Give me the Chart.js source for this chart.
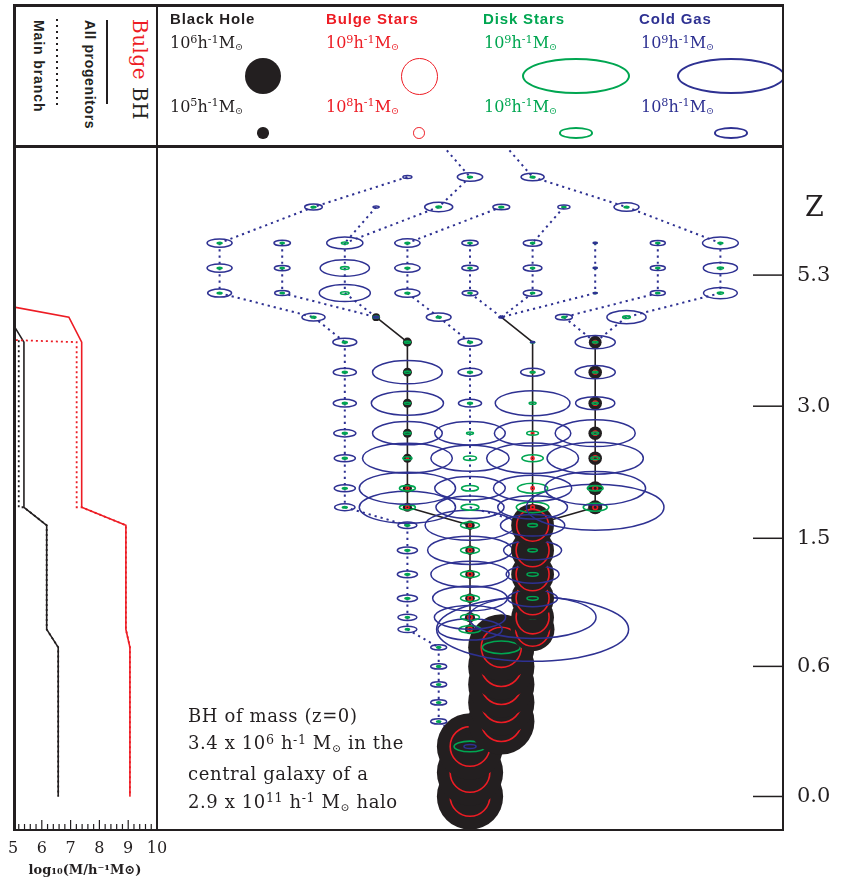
<!DOCTYPE html>
<html lang="en">
<head>
<meta charset="utf-8">
<title>BH merger tree</title>
<script src="https://cdn.jsdelivr.net/npm/chart.js@4.4.1/dist/chart.umd.min.js"></script>
<style>
  html, body { margin: 0; padding: 0; background: #fff; }
  #page { position: relative; width: 846px; height: 881px; overflow: hidden; background: #fff; }
  #page canvas { position: absolute; }
  .txt { position: absolute; white-space: nowrap; color: #231f20; }
  .vtext { position: absolute; writing-mode: vertical-rl; white-space: nowrap; color: #231f20; }
  .key { font: bold 14px 'Liberation Sans', sans-serif; line-height: 14px; }
  .title { font: bold 15px 'Liberation Sans', sans-serif; line-height: 15px; letter-spacing: 0.85px; top: 11px; }
  .mass { font: 16px 'DejaVu Serif', serif; line-height: 16px; }
  .sup { font-size: 0.7em; position: relative; top: -0.45em; }
  .sub { font-size: 0.6em; position: relative; top: 0.25em; }
  .frame { position: absolute; background: #231f20; }
  #legendShapes { position: absolute; left: 0; top: 0; width: 782px; height: 146px; overflow: hidden; }
  .shape { position: absolute; box-sizing: border-box; border-radius: 50%; }
</style>
</head>
<body>
<div id="page">
  <canvas id="massChart" width="170" height="743" style="left:0;top:138px;"></canvas>
  <canvas id="treeChart" width="701" height="743" style="left:145px;top:138px;"></canvas>

  <!-- legend: left panel keys -->
  <div class="vtext" style="left:130px;top:19px;font:20px 'DejaVu Serif',serif;line-height:20px;letter-spacing:0.5px"><span style="color:#ed1c24">Bulge</span> BH</div>
  <div class="vtext key" style="left:83px;top:20px;letter-spacing:0.65px">All progenitors</div>
  <div class="vtext key" style="left:32px;top:20px;letter-spacing:0.9px">Main branch</div>
  <div style="position:absolute;left:106px;top:20px;width:2px;height:84px;background:#231f20"></div>
  <div style="position:absolute;left:56px;top:19px;width:2px;height:87px;background:repeating-linear-gradient(to bottom,#231f20 0 2px,transparent 2px 6px)"></div>

  <!-- legend: symbol sizes -->
  <div id="legendShapes"></div>
  <div class="txt title" style="left:170px">Black Hole</div>
  <div class="txt title" style="left:326px;color:#ed1c24">Bulge Stars</div>
  <div class="txt title" style="left:483px;color:#00a651">Disk Stars</div>
  <div class="txt title" style="left:639px;color:#2e3192">Cold Gas</div>

  <div class="txt mass" style="left:170px;top:35px">10<span class="sup">6</span>h<span class="sup">-1</span>M<span class="sub">⊙</span></div>
  <div class="txt mass" style="left:170px;top:98.5px">10<span class="sup">5</span>h<span class="sup">-1</span>M<span class="sub">⊙</span></div>
  <div class="txt mass" style="left:326px;top:35px;color:#ed1c24">10<span class="sup">9</span>h<span class="sup">-1</span>M<span class="sub">⊙</span></div>
  <div class="txt mass" style="left:326px;top:98.5px;color:#ed1c24">10<span class="sup">8</span>h<span class="sup">-1</span>M<span class="sub">⊙</span></div>
  <div class="txt mass" style="left:484px;top:35px;color:#00a651">10<span class="sup">9</span>h<span class="sup">-1</span>M<span class="sub">⊙</span></div>
  <div class="txt mass" style="left:484px;top:98.5px;color:#00a651">10<span class="sup">8</span>h<span class="sup">-1</span>M<span class="sub">⊙</span></div>
  <div class="txt mass" style="left:641px;top:35px;color:#2e3192">10<span class="sup">9</span>h<span class="sup">-1</span>M<span class="sub">⊙</span></div>
  <div class="txt mass" style="left:641px;top:98.5px;color:#2e3192">10<span class="sup">8</span>h<span class="sup">-1</span>M<span class="sub">⊙</span></div>

  <!-- redshift axis name and note -->
  <div class="txt" style="left:805px;top:193px;font:27px 'DejaVu Serif',serif;line-height:27px">Z</div>
  <div class="txt" style="left:188px;top:701.6px;font:18px 'DejaVu Serif',serif;line-height:27.8px;letter-spacing:0.6px">
    BH of mass (z=0)<br>
    3.4 x 10<span class="sup">6</span> h<span class="sup">-1</span> M<span class="sub">⊙</span> in the<br>
    central galaxy of a<br>
    2.9 x 10<span class="sup">11</span> h<span class="sup">-1</span> M<span class="sub">⊙</span> halo
  </div>

  <!-- frames -->
  <div class="frame" style="left:13px;top:4px;width:771px;height:2.5px"></div>
  <div class="frame" style="left:13px;top:145px;width:771px;height:2.5px"></div>
  <div class="frame" style="left:13px;top:828.5px;width:771px;height:2.5px"></div>
  <div class="frame" style="left:13px;top:4px;width:2.5px;height:827px"></div>
  <div class="frame" style="left:155.5px;top:4px;width:2.5px;height:827px"></div>
  <div class="frame" style="left:781.5px;top:4px;width:2.5px;height:827px"></div>
</div>

<script>
// ---- shared time axis (snapshot time, arbitrary units, 0 = today) ----
// one entry per tree row, row 0 sits just above the frame
const rowTime = [26.2, 24.76, 23.56, 22.12, 21.12, 20.12, 19.16, 18.16, 16.96, 15.72,
                 14.52, 13.52, 12.32, 11.56, 10.84, 9.84, 8.88, 7.92, 7.16, 6.68,
                 5.96, 5.2, 4.48, 3.76, 3.0, 2.0, 0.96, 0];
const zTickTime = [20.84, 15.6, 10.32, 5.2, 0];
const zTickLabels = ['5.3', '3.0', '1.5', '0.6', '0.0'];

// ---- merger tree nodes (one line per row) ----
const nodeCol = [
  7, 9,
  6, 8, 10,
  3, 5, 7, 9, 11, 13,
  0, 2, 4, 6, 8, 10, 12, 14, 16,
  0, 2, 4, 6, 8, 10, 12, 14, 16,
  0, 2, 4, 6, 8, 10, 12, 14, 16,
  3, 5, 7, 9, 11, 13,
  4, 6, 8, 10, 12,
  4, 6, 8, 10, 12,
  4, 6, 8, 10, 12,
  4, 6, 8, 10, 12,
  4, 6, 8, 10, 12,
  4, 6, 8, 10, 12,
  4, 6, 8, 10, 12,
  6, 8, 10,
  6, 8, 10,
  6, 8, 10,
  6, 8, 10,
  6, 8, 10,
  6, 8, 10,
  7, 9,
  7, 9,
  7, 9,
  7, 9,
  7, 9,
  8, 8, 8
];
const nodeRow = [
  0, 0,
  1, 1, 1,
  2, 2, 2, 2, 2, 2,
  3, 3, 3, 3, 3, 3, 3, 3, 3,
  4, 4, 4, 4, 4, 4, 4, 4, 4,
  5, 5, 5, 5, 5, 5, 5, 5, 5,
  6, 6, 6, 6, 6, 6,
  7, 7, 7, 7, 7,
  8, 8, 8, 8, 8,
  9, 9, 9, 9, 9,
  10, 10, 10, 10, 10,
  11, 11, 11, 11, 11,
  12, 12, 12, 12, 12,
  13, 13, 13, 13, 13,
  14, 14, 14,
  15, 15, 15,
  16, 16, 16,
  17, 17, 17,
  18, 18, 18,
  19, 19, 19,
  20, 20,
  21, 21,
  22, 22,
  23, 23,
  24, 24,
  25, 26, 27
];
// column of the descendant in the next row
const descCol = [
  8, 10,
  3, 7, 13,
  0, 4, 4, 6, 10, 16,
  0, 2, 4, 6, 8, 10, 12, 14, 16,
  0, 2, 4, 6, 8, 10, 12, 14, 16,
  3, 5, 5, 7, 9, 9, 9, 11, 13,
  4, 6, 8, 10, 12, 12,
  4, 6, 8, 10, 12,
  4, 6, 8, 10, 12,
  4, 6, 8, 10, 12,
  4, 6, 8, 10, 12,
  4, 6, 8, 10, 12,
  4, 6, 8, 10, 12,
  6, 8, 10, 10, 10,
  6, 8, 10,
  6, 8, 10,
  6, 8, 10,
  6, 8, 10,
  6, 8, 10,
  7, 9, 9,
  7, 9,
  7, 9,
  7, 9,
  7, 9,
  8, 8,
  8, 8, null
];
// 1 = link drawn as solid black BH line, 0 = dotted blue
const linkSolid = [
  0, 0,
  0, 0, 0,
  0, 0, 0, 0, 0, 0,
  0, 0, 0, 0, 0, 0, 0, 0, 0,
  0, 0, 0, 0, 0, 0, 0, 0, 0,
  0, 0, 0, 0, 0, 0, 0, 0, 0,
  0, 1, 0, 1, 0, 0,
  0, 1, 0, 1, 1,
  0, 1, 0, 1, 1,
  0, 1, 0, 1, 1,
  0, 1, 0, 1, 1,
  0, 1, 0, 1, 1,
  0, 1, 0, 1, 1,
  0, 1, 0, 1, 1,
  0, 1, 1,
  0, 1, 1,
  0, 1, 1,
  0, 1, 1,
  0, 1, 1,
  0, 1, 1,
  0, 1,
  0, 1,
  0, 1,
  0, 1,
  0, 1,
  1, 1, 0
];
const n = null;
// log10 masses in h^-1 Msun
const logBH = [
  n, n,
  n, n, n,
  n, n, n, n, n, n,
  n, n, n, n, n, n, n, n, n,
  n, n, n, n, n, n, n, n, n,
  n, n, n, n, n, n, n, n, n,
  n, 4.69, n, 3.5, n, n,
  n, 4.8, n, 3.5, 5.1,
  n, 4.8, n, 3.5, 5.15,
  n, 4.8, n, 3.5, 5.15,
  n, 4.8, n, 3.5, 5.15,
  n, 4.8, n, 3.5, 5.15,
  n, 4.8, n, 3.5, 5.18,
  n, 4.8, n, 3.5, 5.18,
  n, 4.83, 6.15,
  n, 4.83, 6.15,
  n, 4.83, 6.15,
  n, 4.85, 6.15,
  n, 4.89, 6.15,
  n, 4.89, 6.17,
  n, 6.53,
  n, 6.53,
  n, 6.53,
  n, 6.53,
  n, 6.53,
  6.53, 6.53, 6.53
];
const logBulge = [
  n, n,
  n, n, n,
  n, n, n, n, n, n,
  n, n, n, n, n, n, n, n, n,
  n, n, n, n, n, n, n, n, n,
  n, n, n, n, n, n, n, n, n,
  n, n, n, n, n, n,
  n, n, n, n, 6.9,
  n, n, n, 6.6, 7.0,
  n, n, n, n, 7.1,
  n, n, n, 6.7, 7.1,
  n, 6.5, n, 6.8, 7.2,
  n, 6.8, n, 6.9, 7.2,
  n, 6.9, n, 7.0, 7.2,
  n, 6.8, 8.87,
  n, 7.0, 8.9,
  n, 7.1, 8.9,
  n, 7.1, 8.9,
  n, 7.1, 8.9,
  n, 7.1, 8.92,
  n, 9.07,
  n, 9.07,
  n, 9.07,
  n, 9.07,
  n, 9.07,
  9.06, 9.06, 9.06
];
const logDisk = [
  6.3, 6.3,
  n, 6.3, 6.3,
  6.3, n, 6.4, 6.3, 6.2, 6.3,
  6.3, 6.2, 6.6, 6.3, 6.2, 6.2, 6.0, 6.2, 6.3,
  6.3, 6.2, 6.8, 6.3, 6.2, 6.2, 6.0, 6.2, 6.5,
  6.3, 6.2, 6.8, 6.3, 6.2, 6.2, 6.0, 6.2, 6.5,
  6.3, 6.5, 6.3, n, 6.2, 6.7,
  6.3, 6.5, 6.3, 6.2, 6.4,
  6.3, 6.5, 6.3, 6.3, 6.4,
  6.3, 6.5, 6.3, 6.6, 6.5,
  6.3, 6.6, 6.6, 7.07, 6.6,
  6.3, 6.85, 7.16, 7.59, 6.8,
  6.3, 7.34, 7.39, 7.89, 7.33,
  6.3, 7.34, 7.44, 7.96, 7.69,
  6.3, 7.49, 6.9,
  6.3, 7.49, 6.88,
  6.3, 7.49, 7.03,
  6.3, 7.49, 7.03,
  6.2, 7.49, 6.9,
  6.2, 7.62, 6.7,
  6.2, 8.09,
  6.2, 6.9,
  6.2, 6.9,
  6.2, 6.9,
  6.2, 6.9,
  7.94, 7.9, 8.09
];
const logGas = [
  7.6, 7.6,
  6.84, 7.74, 7.66,
  7.43, 6.5, 7.83, 7.39, 7.1, 7.73,
  7.73, 7.37, 8.05, 7.74, 7.36, 7.48, 6.2, 7.29, 8.04,
  7.73, 7.33, 8.32, 7.74, 7.36, 7.48, 6.2, 7.29, 8.0,
  7.69, 7.29, 8.35, 7.73, 7.33, 7.48, 6.2, 7.29, 7.99,
  7.66, 6.4, 7.72, 6.33, 7.39, 8.12,
  7.69, n, 7.69, 6.2, 8.14,
  7.66, 8.62, 7.69, 7.69, 8.14,
  7.66, 8.65, 7.66, 8.68, 8.12,
  7.62, 8.62, 8.63, 8.7, 8.74,
  7.58, 8.84, 8.72, 8.86, 8.9,
  7.58, 8.9, 8.63, 8.72, 8.94,
  7.55, 8.9, 8.6, 8.62, 9.21,
  7.49, 8.84, 8.55,
  7.54, 8.79, 8.46,
  7.54, 8.72, 8.38,
  7.54, 8.68, 8.33,
  7.49, 8.64, 9.14,
  7.49, 8.55, 9.5,
  7.34, n,
  7.34, n,
  7.34, n,
  7.34, n,
  7.34, n,
  7.1, n, n
];

// ---- left panel: log10 mass vs time ----
const bulgeAllMass  = [2.4, 6.94, 7.385, 7.385, 8.92, 8.92, 9.06, 9.06];
const bulgeAllTime  = [20.12, 19.16, 18.16, 11.56, 10.84, 6.68, 5.96, 0];
const bulgeMainMass = [5.1, 7.21, 7.21, 7.385, 8.92, 8.92, 9.06, 9.06];
const bulgeMainTime = [18.24, 18.16, 11.56, 11.56, 10.84, 6.68, 5.96, 0];
const bhAllMass     = [4.85, 5.38, 5.38, 6.17, 6.17, 6.57, 6.57];
const bhAllTime     = [19.16, 18.16, 11.56, 10.84, 6.68, 5.96, 0];
const bhMainMass    = [5.2, 5.2, 5.38, 6.17, 6.17, 6.57, 6.57];
const bhMainTime    = [18.24, 11.56, 11.56, 10.84, 6.68, 5.96, 0];

// legend reference masses (log10)
const legendBH = [6, 5];
const legendStars = [9, 8];

const COLORS = { bh: '#231f20', bulge: '#ed1c24', disk: '#00a651', gas: '#2e3192' };

// symbol size from mass: diameter grows as sqrt(M)
function bhDiameter(logM) { return 36 * Math.sqrt(Math.pow(10, logM - 6)); }
function bulgeDiameter(logM) { return 37 * Math.sqrt(Math.pow(10, logM - 9)); }
function discWidth(logM) { return 108 * Math.sqrt(Math.pow(10, logM - 9)); }

// --- legend symbols ---
function addShape(cx, cy, w, h, css) {
  const d = document.createElement('div');
  d.className = 'shape';
  d.style.cssText = `left:${cx - w / 2}px;top:${cy - h / 2}px;width:${w}px;height:${h}px;${css}`;
  document.getElementById('legendShapes').appendChild(d);
}
const legendY = [76, 133];
legendBH.forEach((m, i) => { const d = bhDiameter(m); addShape(263, legendY[i], d, d, `background:${COLORS.bh}`); });
legendStars.forEach((m, i) => {
  const d = bulgeDiameter(m);
  addShape(419, legendY[i], d, d, `border:1.8px solid ${COLORS.bulge}`);
  const w = discWidth(m);
  addShape(576, legendY[i], w, w / 3, `border:2px solid ${COLORS.disk}`);
  addShape(731, legendY[i], w, w / 3, `border:2px solid ${COLORS.gas}`);
});

// --- tree links ---
const solidEdges = [];
const dottedEdges = [];
nodeCol.forEach((c, i) => {
  if (descCol[i] === null) return;
  const j = nodeCol.findIndex((c2, k) => nodeRow[k] === nodeRow[i] + 1 && c2 === descCol[i]);
  if (j < 0) return;
  const seg = [{ x: c, y: rowTime[nodeRow[i]] }, { x: nodeCol[j], y: rowTime[nodeRow[j]] }, { x: null, y: null }];
  (linkSolid[i] ? solidEdges : dottedEdges).push(...seg);
});
const nodePoints = nodeCol.map((c, i) => ({ x: c, y: rowTime[nodeRow[i]] }));

const treePlugin = {
  id: 'treeNodes',
  afterDatasetsDraw(chart) {
    const { ctx, chartArea } = chart;
    const meta = chart.getDatasetMeta(2);
    ctx.save();
    ctx.beginPath();
    ctx.rect(chartArea.left, chartArea.top, chartArea.width, chartArea.height);
    ctx.clip();
    // latest snapshots first so that older progenitors land on top
    const order = nodeCol.map((_, i) => i).sort((a, b) => nodeRow[b] - nodeRow[a]);
    order.forEach(i => {
      const { x, y } = meta.data[i];
      if (logBH[i] !== null) {
        ctx.fillStyle = COLORS.bh;
        ctx.beginPath();
        ctx.arc(x, y, bhDiameter(logBH[i]) / 2, 0, Math.PI * 2);
        ctx.fill();
      }
      if (logBulge[i] !== null) {
        ctx.strokeStyle = COLORS.bulge;
        ctx.lineWidth = 1.6;
        ctx.beginPath();
        ctx.arc(x, y, bulgeDiameter(logBulge[i]) / 2, 0, Math.PI * 2);
        ctx.stroke();
      }
      if (logDisk[i] !== null) {
        const w = discWidth(logDisk[i]);
        ctx.strokeStyle = COLORS.disk;
        ctx.lineWidth = 1.6;
        ctx.beginPath();
        ctx.ellipse(x, y, w / 2, w / 6, 0, 0, Math.PI * 2);
        ctx.stroke();
      }
      if (logGas[i] !== null) {
        const w = discWidth(logGas[i]);
        ctx.strokeStyle = COLORS.gas;
        ctx.lineWidth = 1.5;
        ctx.beginPath();
        ctx.ellipse(x, y, w / 2, w / 6, 0, 0, Math.PI * 2);
        ctx.stroke();
      }
    });
    ctx.restore();
  },
  afterDraw(chart) {
    // inward tick marks on the redshift axis
    const { ctx, chartArea, scales: { y } } = chart;
    ctx.save();
    ctx.strokeStyle = COLORS.bh;
    ctx.lineWidth = 1.5;
    y.ticks.forEach(t => {
      const py = y.getPixelForValue(t.value);
      ctx.beginPath();
      ctx.moveTo(chartArea.right - 30, py);
      ctx.lineTo(chartArea.right, py);
      ctx.stroke();
    });
    ctx.restore();
  }
};

const massTicks = {
  id: 'massTicks',
  afterDraw(chart) {
    const { ctx, chartArea, scales: { x } } = chart;
    ctx.save();
    ctx.strokeStyle = COLORS.bh;
    ctx.lineWidth = 1.2;
    for (let i = 1; i < 25; i++) {
      const px = x.getPixelForValue(5 + i * 0.2);
      const len = i % 5 === 0 ? 9 : 5;
      ctx.beginPath();
      ctx.moveTo(px, chartArea.bottom);
      ctx.lineTo(px, chartArea.bottom - len);
      ctx.stroke();
    }
    ctx.restore();
  }
};

const timeMin = -1.3;
const timeMax = 26;

new Chart(document.getElementById('treeChart'), {
  type: 'scatter',
  data: {
    datasets: [
      { label: 'BH line', data: solidEdges, showLine: true, spanGaps: false, borderColor: COLORS.bh,
        borderWidth: 1.6, pointRadius: 0, clip: 0 },
      { label: 'progenitors', data: dottedEdges, showLine: true, spanGaps: false, borderColor: COLORS.gas,
        borderWidth: 2, borderDash: [2.2, 4], pointRadius: 0, clip: 0 },
      { label: 'galaxies', data: nodePoints, pointRadius: 0, pointHoverRadius: 0 }
    ]
  },
  options: {
    responsive: false,
    animation: false,
    events: [],
    layout: { padding: { left: 12, top: 8, right: 0, bottom: 52 } },
    scales: {
      x: { type: 'linear', min: -2, max: 18, display: false },
      y: {
        type: 'linear', position: 'right', min: timeMin, max: timeMax,
        grid: { display: false, drawTicks: false },
        border: { display: false },
        afterBuildTicks: s => { s.ticks = zTickTime.map(v => ({ value: v })); },
        afterFit: s => { s.width = 63; s.paddingTop = 0; s.paddingBottom = 0; },
        ticks: {
          padding: 14, color: COLORS.bh, autoSkip: false,
          font: { family: 'DejaVu Serif', size: 21 },
          callback: (v, i) => zTickLabels[i]
        }
      }
    },
    plugins: { legend: { display: false }, tooltip: { enabled: false } }
  },
  plugins: [treePlugin]
});

function massLine(xs, ts, color, dash) {
  return {
    data: xs.map((m, i) => ({ x: m, y: ts[i] })),
    showLine: true, borderColor: color, borderWidth: dash.length ? 1.8 : 1.6,
    borderDash: dash, pointRadius: 0, clip: 0
  };
}

new Chart(document.getElementById('massChart'), {
  type: 'scatter',
  data: {
    datasets: [
      massLine(bulgeAllMass, bulgeAllTime, COLORS.bulge, []),
      massLine(bulgeMainMass, bulgeMainTime, COLORS.bulge, [2, 3]),
      massLine(bhAllMass, bhAllTime, COLORS.bh, []),
      massLine(bhMainMass, bhMainTime, COLORS.bh, [2, 3])
    ]
  },
  options: {
    responsive: false,
    animation: false,
    events: [],
    layout: { padding: { left: 13, right: 13, top: 8, bottom: 0 } },
    scales: {
      x: {
        type: 'linear', position: 'bottom', min: 5, max: 10,
        grid: { display: false, drawTicks: false },
        border: { display: false },
        ticks: { stepSize: 1, padding: 10, autoSkip: false, maxRotation: 0, color: COLORS.bh,
                 font: { family: 'DejaVu Serif', size: 16 } },
        title: { display: true, text: 'log₁₀(M/h⁻¹M⊙)', color: COLORS.bh,
                 font: { family: 'DejaVu Serif', size: 13, weight: 'bold' }, padding: { top: 0, bottom: 3 } },
        afterFit: s => { s.height = 52; s.paddingLeft = 0; s.paddingRight = 0; }
      },
      y: { type: 'linear', min: timeMin, max: timeMax, display: false }
    },
    plugins: { legend: { display: false }, tooltip: { enabled: false } }
  },
  plugins: [massTicks]
});
</script>
</body>
</html>
